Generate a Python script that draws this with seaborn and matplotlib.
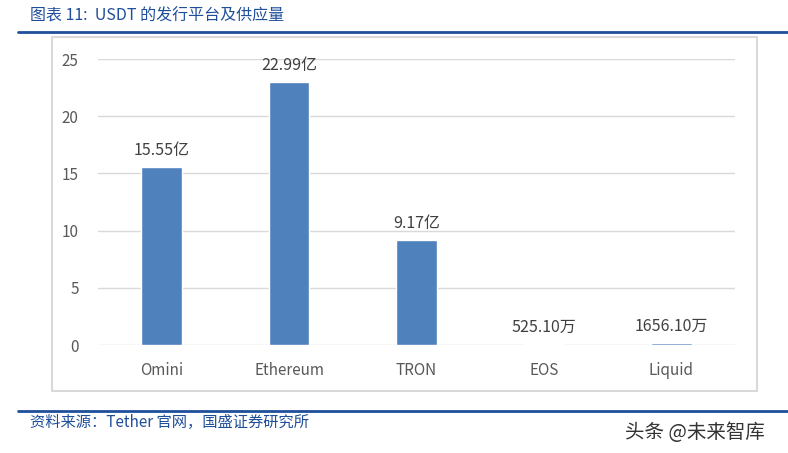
import matplotlib
matplotlib.use("Agg")
import matplotlib.pyplot as plt
import seaborn as sns
import pandas as pd
from matplotlib.patches import Rectangle
from matplotlib.lines import Line2D

# data (unit: 亿 USDT)
platforms = ["Omini", "Ethereum", "TRON", "EOS", "Liquid"]
supply = [15.55, 22.99, 9.17, 0.052510, 0.165610]
bar_labels = ["15.55亿", "22.99亿", "9.17亿", "525.10万", "1656.10万"]
yticks = [0, 5, 10, 15, 20, 25]

sns.set_theme(style="white")
plt.rcParams['font.family'] = ['Noto Sans CJK SC', 'DejaVu Sans']

df = pd.DataFrame({"platform": platforms, "supply": supply})

fig = plt.figure(figsize=(7.88, 4.53), dpi=100)
ax = fig.add_axes([0.1244, 0.2384, 0.8083, 0.6313])

sns.barplot(data=df, x="platform", y="supply", color="#4F81BD",
            saturation=1, width=0.32, ax=ax)

ax.set_ylim(0, 25)
ax.set_xlim(-0.5, 4.5)
ax.set_yticks(yticks)
ax.set_yticklabels([str(t) for t in yticks])
ax.grid(axis="y", color="#D9D9D9", linewidth=1)
ax.set_axisbelow(True)
for s in ax.spines.values():
    s.set_visible(False)
ax.tick_params(axis="y", length=0, pad=14, labelsize=11, labelcolor="#595959")
ax.tick_params(axis="x", length=0, pad=12, labelsize=11, labelcolor="#595959")
ax.set_xlabel("")
ax.set_ylabel("")

# value labels above bars
for i, (v, lab) in enumerate(zip(supply, bar_labels)):
    ax.annotate(lab, (i, v), xytext=(0, 6), textcoords="offset points",
                ha="center", va="bottom", fontsize=11.5, color="#404040")

# chart frame
fig.patches.append(Rectangle((0.066, 0.137), 0.895, 0.781, transform=fig.transFigure,
                             fill=False, edgecolor="#D9D9D9", linewidth=1.5))

# blue rules
blue = "#1F4E9A"
fig.add_artist(Line2D([0.023, 1.0], [0.929, 0.929], transform=fig.transFigure,
                      color=blue, linewidth=2))
fig.add_artist(Line2D([0.023, 1.0], [0.093, 0.093], transform=fig.transFigure,
                      color=blue, linewidth=2))

fig.text(0.038, 0.964, "图表 11:  USDT 的发行平台及供应量", fontsize=11.5,
         color=blue, style="italic", va="center", ha="left")
fig.text(0.038, 0.068, "资料来源：Tether 官网，国盛证券研究所", fontsize=11,
         color=blue, style="italic", va="center", ha="left")
fig.text(0.793, 0.046, "头条 @未来智库", fontsize=14, color="#333333",
         va="center", ha="left")

fig.savefig("out.png", dpi=100)
